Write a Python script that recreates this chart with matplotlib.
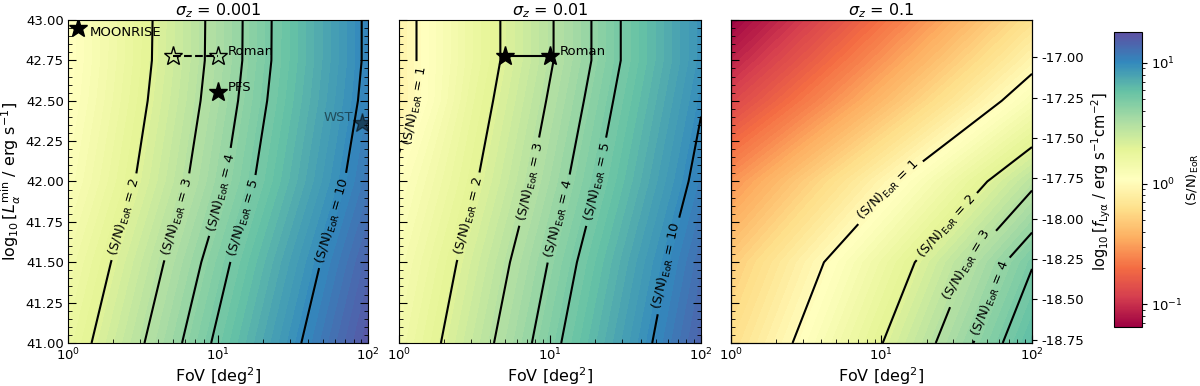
import numpy as np
import matplotlib
matplotlib.use('Agg')
import matplotlib.pyplot as plt
from matplotlib.colors import LogNorm, Normalize
from matplotlib.cm import ScalarMappable

# grid the S/N maps were read on (FoV in deg^2, log10 L_min)
fov_grid = np.array([1, 3, 10, 30, 100])
lmin_grid = np.array([41.0, 41.5, 42.0, 42.5, 42.75, 43.0])

# (S/N)_EoR, rows = lmin_grid, cols = fov_grid
sn_001 = np.array([
    [1.67, 2.89, 5.27, 9.14, 16.7],
    [1.44, 2.49, 4.55, 7.89, 14.4],
    [1.20, 2.07, 3.78, 6.55, 11.97],
    [1.08, 1.88, 3.43, 5.94, 10.8],
    [1.05, 1.82, 3.32, 5.75, 10.5],
    [1.05, 1.81, 3.31, 5.74, 10.5],
])
sn_01 = np.array([
    [1.45, 2.52, 4.59, 7.95, 14.5],
    [1.29, 2.23, 4.07, 7.06, 12.9],
    [1.10, 1.90, 3.48, 6.02, 11.0],
    [0.84, 1.69, 3.09, 5.35, 9.77],
    [0.86, 1.60, 2.92, 5.05, 9.23],
    [0.86, 1.60, 2.92, 5.05, 9.23],
])
sn_1 = np.array([
    [0.625, 1.08, 1.98, 3.43, 6.25],
    [0.49, 0.85, 1.55, 2.68, 4.90],
    [0.28, 0.49, 0.89, 1.54, 2.82],
    [0.126, 0.218, 0.398, 0.69, 1.26],
    [0.089, 0.154, 0.282, 0.488, 0.891],
    [0.065, 0.112, 0.204, 0.354, 0.646],
])
sigma_z = ['0.001', '0.01', '0.1']
sn_maps = [sn_001, sn_01, sn_1]
contour_levels = [[2, 3, 4, 5, 10], [1, 2, 3, 4, 5, 10], [1, 2, 3, 4]]
extra_levels = [[], [], [5]]   # drawn without label

# surveys
moonrise_fov, moonrise_l = 1.17, 42.95
roman_fov = [5, 10]
roman_l = [42.78, 42.78]
pfs_fov, pfs_l = 10, 42.555
wst_fov, wst_l = 91, 42.36

flux_offset = 59.77   # log10 f_Lya = log10 L - offset

vmin, vmax = 0.065, 18.0
lo, hi = np.log10(vmin), np.log10(vmax)

fig = plt.figure(figsize=(12, 3.86), dpi=100)
ax_pos = [[0.0567, 0.1114, 0.25, 0.8368],
          [0.3325, 0.1114, 0.2517, 0.8368],
          [0.609, 0.1114, 0.251, 0.8368]]

# where the contour labels sit (log10 FoV, log10 L)
label_pos = [
    [(0.38, 41.78), (0.73, 41.78), (1.0, 41.94), (1.17, 41.77), (1.76, 41.76)],
    [(0.1, 42.47), (0.48, 41.78), (0.86, 42.0), (1.06, 41.77), (1.3, 42.0), (1.77, 41.48)],
    [(1.04, 41.95), (1.4, 41.75), (1.6, 41.47), (1.66, 41.3)],
]

minor_x = np.log10(np.concatenate([np.arange(2, 10), np.arange(20, 100, 10)]))

axes = []
for i in range(3):
    ax = fig.add_axes(ax_pos[i])
    axes.append(ax)
    X, Y = np.meshgrid(np.log10(fov_grid), lmin_grid)
    Z = np.log10(sn_maps[i])
    ax.contourf(X, Y, Z, levels=np.linspace(lo, hi, 90), cmap='Spectral',
                norm=Normalize(lo, hi), extend='both')
    cs = ax.contour(X, Y, Z, levels=np.log10(contour_levels[i]), colors='k', linewidths=1.5)
    fmt = {}
    for lv, v in zip(cs.levels, contour_levels[i]):
        fmt[lv] = r'(S/N)$_{\rm EoR}$ = %d' % v
    ax.clabel(cs, fmt=fmt, manual=label_pos[i], fontsize=9.5, inline=True)
    if extra_levels[i]:
        ax.contour(X, Y, Z, levels=np.log10(extra_levels[i]), colors='k', linewidths=1.5)

    ax.set_xlim(0, 2)
    ax.set_ylim(41, 43)
    ax.set_xticks([0, 1, 2])
    ax.set_xticklabels([r'$10^{0}$', r'$10^{1}$', r'$10^{2}$'])
    ax.set_xticks(minor_x, minor=True)
    ax.set_yticks(np.arange(41, 43.01, 0.25))
    ax.set_yticks(np.arange(41, 43.01, 0.05), minor=True)
    ax.tick_params(which='both', direction='in', left=True, right=True, labelsize=9.5, pad=3)
    ax.tick_params(which='major', length=6)
    ax.tick_params(which='minor', length=3)
    ax.set_xlabel(r'FoV [deg$^2$]', fontsize=11.5, labelpad=1)
    ax.set_title(r'$\sigma_z$ = ' + sigma_z[i], fontsize=11.5, pad=3)
    if i == 0:
        ax.yaxis.set_major_formatter(matplotlib.ticker.FormatStrFormatter('%.2f'))
        ax.set_ylabel(r'$\log_{10}[L_\alpha^{\rm min}$ / erg s$^{-1}]$', fontsize=11.5, labelpad=2)
    else:
        ax.set_yticklabels([])

ax1, ax2, ax3 = axes

# left panel surveys
ax1.plot(np.log10(moonrise_fov), moonrise_l, marker='*', color='k', ms=14)
ax1.annotate('MOONRISE', (np.log10(moonrise_fov), moonrise_l), xytext=(8, -3),
             textcoords='offset points', va='center', fontsize=9.5)
ax1.plot(np.log10(roman_fov), roman_l, 'k--', marker='*', ms=14, mfc='none', lw=1.5)
ax1.annotate('Roman', (np.log10(roman_fov[1]), roman_l[1]), xytext=(7, 3),
             textcoords='offset points', va='center', fontsize=9.5)
ax1.plot(np.log10(pfs_fov), pfs_l, marker='*', color='k', ms=14)
ax1.annotate('PFS', (np.log10(pfs_fov), pfs_l), xytext=(7, 3),
             textcoords='offset points', va='center', fontsize=9.5)
ax1.plot(np.log10(wst_fov), wst_l, marker='*', color='k', alpha=0.5, ms=14)
ax1.annotate('WST', (np.log10(wst_fov), wst_l), xytext=(-6, 4), alpha=0.5,
             textcoords='offset points', va='center', ha='right', fontsize=9.5)

# middle panel
ax2.plot(np.log10(roman_fov), roman_l, 'k-', marker='*', ms=14, lw=1.5)
ax2.annotate('Roman', (np.log10(roman_fov[1]), roman_l[1]), xytext=(7, 3),
             textcoords='offset points', va='center', fontsize=9.5)

# right panel flux axis
ax3b = ax3.twinx()
ax3b.set_ylim(41 - flux_offset, 43 - flux_offset)
ax3b.set_yticks(np.arange(-18.75, -16.99, 0.25))
ax3b.yaxis.set_major_formatter(matplotlib.ticker.FormatStrFormatter('%.2f'))
ax3b.tick_params(labelsize=9.5)
ax3b.set_ylabel(r'$\log_{10}[f_{\rm Ly\alpha}$ / erg s$^{-1}$cm$^{-2}]$', fontsize=10.5)

cax = fig.add_axes([0.928, 0.153, 0.0233, 0.764])
sm = ScalarMappable(norm=LogNorm(vmin, vmax), cmap='Spectral')
cb = fig.colorbar(sm, cax=cax)
cb.ax.tick_params(labelsize=9.5)
cb.set_label(r'(S/N)$_{\rm EoR}$', fontsize=9.5, labelpad=1)

fig.savefig('out.png', dpi=100)
